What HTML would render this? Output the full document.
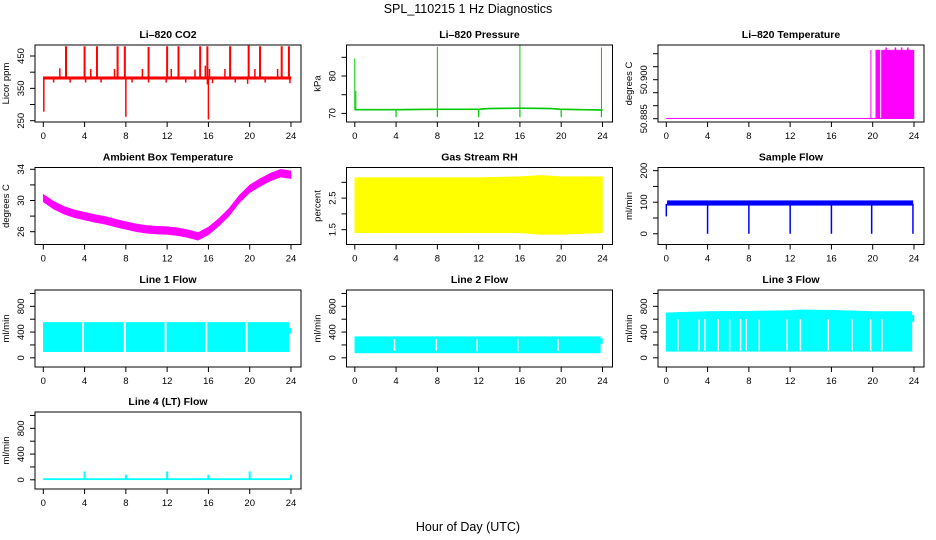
<!DOCTYPE html>
<html><head><meta charset="utf-8">
<style>
body{margin:0;background:#fff;}
svg{display:block;font-family:"Liberation Sans",Arial,sans-serif;}
</style></head>
<body>
<svg id="chart" width="936" height="540" viewBox="0 0 936 540" xmlns="http://www.w3.org/2000/svg">
<rect width="936" height="540" fill="#fff"/>
<text x="468" y="13" text-anchor="middle" font-size="12.5">SPL_110215  1 Hz Diagnostics</text>
<text x="468" y="531" text-anchor="middle" font-size="12.5">Hour of Day (UTC)</text>
</svg>
<script>
const xTicks=[0,4,8,12,16,20,24];
// CO2
const co2BaseHours=[0,24]; const co2BaseVals=[382,382];
const co2SpikeHours=[2.2,4.0,5.2,7.2,7.9,10.2,12.0,13.1,15.2,15.9,18.1,19.9,21.0,23.1,23.8];
const co2SpikeVals=[480,480,480,480,480,478,480,480,480,480,480,482,480,480,480];
const co2SmallHours=[1.6,4.6,6.9,9.6,12.4,14.7,17.6,20.5,22.7,15.7,16.1];
const co2SmallVals=[412,410,410,410,410,408,410,410,410,420,410];
const co2DipHours=[0.05,1.0,2.6,4.1,5.6,8.0,8.6,10.2,11.9,13.8,15.9,16.0,16.4,18.6,19.8,21.5,23.9];
const co2DipVals=[278,368,368,368,368,262,368,368,368,368,362,254,366,368,364,368,366];
// Pressure
const presHours=[0,4,8,12,13,16,19,20,24];
const presVals=[71,71,71.1,71.1,71.3,71.4,71.3,71.1,70.9];
const presSpikeHours=[0.0,0.1,8.0,16.0,23.9];
const presSpikeVals=[84.7,76,87.8,88.2,87.6];
const presDipHours=[4,8,12,16,20,23.9];
const presDipVals=[69,69,69,69,69,69];
// Li-820 temperature
const ltBase=50.885;
const ltBlockStart=[19.8,20.3,20.85];
const ltBlockEnd=[19.85,20.7,24];
const ltBlockVals=[50.9114,50.9114,50.9114];
const ltSpikeHours=[21.3,22.2,22.8,23.4];
const ltSpikeVals=[50.9124,50.9124,50.9124,50.9124];
// Ambient temperature
const ambHours=[0,1,2,3,4,5,6,7,8,9,10,11,12,13,14,15,16,17,18,19,20,21,22,23,24];
const ambVals=[30.3,29.4,28.75,28.3,28.0,27.7,27.45,27.1,26.8,26.5,26.3,26.2,26.15,26.0,25.75,25.4,26.1,27.2,28.5,30.2,31.5,32.3,33.0,33.5,33.3];
// RH
const rhHours=[0,4,8,12,16,18,20,24];
const rhTop=[3.15,3.15,3.15,3.15,3.18,3.22,3.18,3.18];
const rhBottom=[1.4,1.4,1.4,1.4,1.4,1.35,1.35,1.4];
// Sample flow
const sfHours=[0.1,23.9]; const sfLo=[90,90]; const sfHi=[105,105];
const sfDipHours=[0,4,8,12,16,19.9,23.9]; const sfDipVals=[55,0,0,0,0,0,0];
// Line flows
const l1Gaps=[3.85,7.9,11.85,15.8,19.7]; const l1Top=550; const l1Bottom=95;
const l2Gaps=[3.85,7.9,11.85,15.8,19.7]; const l2Top=330; const l2Bottom=75;
const l3Gaps=[1.13,3.17,3.75,5.04,6.14,7.2,7.75,9.0,11.7,13.0,15.7,18.0,19.8,20.9];
const l3Hours=[0,4,8,12,13,16,20,23.8]; const l3Tops=[700,720,725,735,745,740,720,720]; const l3Bottom=100;
const l4SpikeHours=[4,8,12,16,20,24]; const l4SpikeVals=[130,80,130,80,130,80];

const svg=document.getElementById('chart');
const NS='http://www.w3.org/2000/svg';
const lefts=[35,346.5,658], tops=[45,167.5,290,412], W=266, H=77;
function mk(tag,attrs,parent){const e=document.createElementNS(NS,tag);for(const k in attrs)e.setAttribute(k,attrs[k]);(parent||svg).appendChild(e);return e;}
function panel(name,col,row,title,ylab,ymin,ymax,yticks,ylabels){
  const L=lefts[col],T=tops[row];
  const g=mk('g',{});
  
  
  const xs=h=>L+8.3+h*10.32;
  const ys=v=>T+H-(v-ymin)/(ymax-ymin)*H;
  const data=mk('g',{},g);
  const axes=mk('g',{},g);
  const bx=mk('rect',{x:L,y:T,width:W,height:H,fill:'none',stroke:'#000','stroke-width':1},axes);
  
  
  const t=mk('text',{x:L+W/2,y:T-7,'text-anchor':'middle','font-size':10.5,'font-weight':'bold'},axes);t.textContent=title;
  
  
  xTicks.forEach(h=>{mk('line',{x1:xs(h),x2:xs(h),y1:T+H,y2:T+H+5,stroke:'#000'},axes);
    const tx=mk('text',{x:xs(h),y:T+H+17,'text-anchor':'middle','font-size':9.5},axes);tx.textContent=h;
    
    });
  yticks.forEach(v=>{mk('line',{x1:L-5,x2:L,y1:ys(v),y2:ys(v),stroke:'#000'},axes);});
  ylabels.forEach(v=>{const y=ys(v);const tx=mk('text',{x:L-11,y:y,'text-anchor':'middle','font-size':9.5,transform:`rotate(-90 ${L-11} ${y})`},axes);tx.textContent=v;
    
    });
  const yt=mk('text',{x:L-26,y:T+H/2,'text-anchor':'middle','font-size':9.5,transform:`rotate(-90 ${L-26} ${T+H/2})`},axes);yt.textContent=ylab;
  
  
  return {data,xs,ys};
}
function seg(p,x,y0,y1,c,w){mk('line',{x1:p.xs(x),x2:p.xs(x),y1:p.ys(y0),y2:p.ys(y1),stroke:c,'stroke-width':w||1.5},p.data);}
function band(p,hx,lo,hi,c){let d='';hx.forEach((h,i)=>{d+=(i?'L':'M')+p.xs(h)+','+p.ys(hi[i]);});for(let i=hx.length-1;i>=0;i--)d+='L'+p.xs(hx[i])+','+p.ys(lo[i]);mk('path',{d:d+'Z',fill:c,stroke:c,'stroke-width':0.5},p.data);}

// CO2
let p=panel('co2-panel',0,0,'Li\u2013820 CO2','Licor ppm',246,484,[250,300,350,400,450],[250,350,450]);
band(p,co2BaseHours,co2BaseVals.map(v=>v-4),co2BaseVals.map(v=>v+4),'#ff0000');
co2SpikeHours.forEach((h,i)=>seg(p,h,382,co2SpikeVals[i],'#ff0000',2));
co2SmallHours.forEach((h,i)=>seg(p,h,382,co2SmallVals[i],'#ff0000',1.5));
co2DipHours.forEach((h,i)=>seg(p,h,382,co2DipVals[i],'#ff0000',1.5));
// Pressure
p=panel('pressure-panel',1,0,'Li\u2013820 Pressure','kPa',67.7,88.3,[70,75,80,85],[70,80]);
band(p,presHours,presVals.map(v=>v-0.15),presVals.map(v=>v+0.15),'#00c800');
presSpikeHours.forEach((h,i)=>seg(p,h,71,presSpikeVals[i],'#00c800',1));
presDipHours.forEach((h,i)=>seg(p,h,71,presDipVals[i],'#00c800',1.2));
// Li temp
p=panel('li820-temperature-panel',2,0,'Li\u2013820 Temperature','degrees C',50.88373,50.91335,[50.885,50.890,50.895,50.900,50.905,50.910],['50.885','50.900']);
band(p,[0,24],[ltBase,ltBase],[ltBase+0.0002,ltBase+0.0002],'#ff00ff');
ltBlockStart.forEach((s,i)=>band(p,[s,ltBlockEnd[i]],[ltBase,ltBase],[ltBlockVals[i],ltBlockVals[i]],'#ff00ff'));
ltSpikeHours.forEach((h,i)=>seg(p,h,ltBase,ltSpikeVals[i],'#ff00ff',1.5));
// Ambient
p=panel('ambient-temperature-panel',0,1,'Ambient Box Temperature','degrees C',24.36,34.23,[26,28,30,32,34],[26,30,34]);
band(p,ambHours,ambVals.map(v=>v-0.5),ambVals.map(v=>v+0.5),'#ff00ff');
// RH
p=panel('rh-panel',1,1,'Gas Stream RH','percent',1.03,3.47,[1.5,2.0,2.5,3.0],[1.5,2.5]);
band(p,rhHours,rhBottom,rhTop,'#ffff00');
// Sample flow
p=panel('sample-flow-panel',2,1,'Sample Flow','ml/min',-34,210,[0,50,100,150,200],[0,100,200]);
band(p,sfHours,sfLo,sfHi,'#0000ff');
sfDipHours.forEach((h,i)=>seg(p,h,95,sfDipVals[i],'#0000ff',1.5));
// Line 1
p=panel('line1-flow-panel',0,2,'Line 1 Flow','ml/min',-143,1054,[0,200,400,600,800,1000],[0,400,800]);
band(p,[0,23.8],[l1Bottom,l1Bottom],[l1Top,l1Top],'#00ffff');
band(p,[23.8,24],[380,380],[460,460],'#00ffff');
l1Gaps.forEach(h=>seg(p,h,l1Bottom-5,l1Top+5,'#fff',2));
// Line 2
p=panel('line2-flow-panel',1,2,'Line 2 Flow','ml/min',-143,1054,[0,200,400,600,800,1000],[0,400,800]);
band(p,[0,23.8],[l2Bottom,l2Bottom],[l2Top,l2Top],'#00ffff');
band(p,[23.8,24],[220,220],[300,300],'#00ffff');
l2Gaps.forEach(h=>seg(p,h,l2Bottom+30,l2Top-40,'#fff',1.5));
// Line 3
p=panel('line3-flow-panel',2,2,'Line 3 Flow','ml/min',-143,1054,[0,200,400,600,800,1000],[0,400,800]);
band(p,l3Hours,l3Hours.map(()=>l3Bottom),l3Tops,'#00ffff');
band(p,[23.8,24],[560,560],[660,660],'#00ffff');
l3Gaps.forEach(h=>seg(p,h,l3Bottom+10,600,'#fff',1.5));
// Line 4
p=panel('line4-flow-panel',0,3,'Line 4 (LT) Flow','ml/min',-143,1054,[0,200,400,600,800,1000],[0,400,800]);
band(p,[0,24],[0,0],[20,20],'#00ffff');
l4SpikeHours.forEach((h,i)=>seg(p,h,10,l4SpikeVals[i],'#00ffff',2));
</script>
</body></html>
